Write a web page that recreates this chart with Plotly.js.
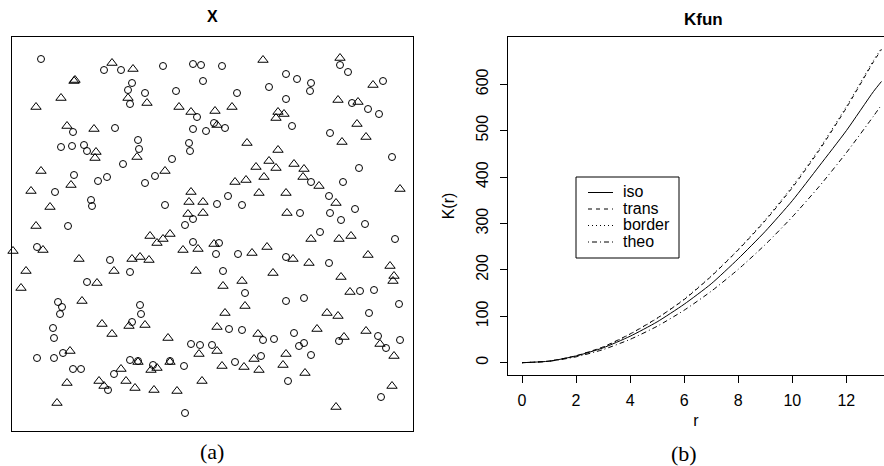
<!DOCTYPE html>
<html>
<head>
<meta charset="utf-8">
<script src="https://cdn.plot.ly/plotly-3.0.1.min.js"></script>
<style>
  html, body { margin: 0; padding: 0; background: #ffffff; }
  #chart { width: 884px; height: 466px; }
</style>
</head>
<body>
<div id="chart"></div>
<script>
// ---------- Panel (a): point pattern X (window units: 0..401 x 0..394) ----------
const circleX = [29,92,109,151,181,189,210,191,120,116,133,164,118,185,202,61,103,181,194,126,177,49,60,72,75,127,178,160,111,
  328,336,274,285,299,298,257,371,225,274,340,356,367,213,280,318,380,
  347,299,331,216,205,230,317,343,288,318,329,353,308,383,207,204,226,274,317,211,233,348,362,
  62,86,95,133,143,43,79,80,153,181,173,56,181,25,98,118,75,
  46,50,48,128,129,41,42,120,179,188,200,25,42,51,61,69,118,126,141,158,172,102,96,173,
  274,292,387,357,217,230,251,262,282,327,366,374,388,287,292,299,223,249,276,369];
const circleY = [372,361,361,365,367,366,365,350,348,341,338,340,327,314,308,299,303,302,300,291,288,284,285,286,280,282,280,272,267,
  366,359,357,352,348,340,344,350,338,332,328,322,317,303,305,298,274,
  263,249,249,235,227,226,235,222,218,218,211,207,199,192,188,177,177,174,168,160,138,140,141,
  256,250,254,248,255,239,231,225,226,212,206,205,189,184,171,159,149,
  129,124,117,126,117,103,93,109,87,86,86,73,73,78,62,62,71,70,66,70,65,57,41,18,
  130,133,127,118,102,101,91,92,98,90,95,83,91,85,88,76,69,75,50,34];

const triX = [100,121,62,63,49,116,135,24,167,179,203,205,55,82,84,83,125,
  251,328,361,326,346,220,266,272,264,345,354,330,235,266,257,
  244,264,282,292,291,307,388,223,234,252,247,274,324,275,299,327,339,202,240,255,281,297,356,378,382,381,261,329,211,230,338,
  29,153,19,59,38,179,177,191,176,191,24,138,145,151,158,186,171,1,31,67,120,128,137,14,102,184,9,85,
  70,90,100,117,133,156,205,187,205,58,126,139,145,158,109,210,55,87,92,114,123,142,165,190,45,
  213,233,315,326,246,305,332,354,368,274,382,232,242,247,271,293,380,324];
const triY = [368,362,350,351,333,333,328,324,324,319,320,306,305,302,279,273,274,
  371,373,346,331,329,324,319,317,313,307,294,289,288,281,270,
  264,263,267,262,254,245,242,249,251,254,238,238,228,218,192,192,195,187,178,184,172,168,176,165,155,150,158,154,145,150,139,
  260,260,240,246,224,239,229,229,217,218,205,195,188,192,197,182,181,180,181,172,172,174,171,160,160,160,143,148,
  130,107,97,105,106,93,104,77,80,80,69,61,63,69,62,65,48,50,45,50,43,41,40,50,28,
  118,125,118,115,97,102,94,100,87,77,75,64,72,61,66,58,45,24];

// ---------- Panel (b): K function estimates ----------
const rVals      = [0, 1, 2, 3, 4, 5, 6, 7, 8, 9, 10, 11, 12, 13, 13.3];
const kIso       = [0, 3.3, 14.5, 32, 57, 88, 126, 170, 224, 283, 349, 424, 500, 584, 606];
const kTrans     = [0, 3.4, 15, 34, 62, 96, 136, 186, 243, 306, 377, 458, 549, 648, 675];
const kBorder    = [0, 3.3, 14.8, 33.6, 61.5, 95.5, 137, 187, 244, 308, 380, 461, 552, 651, 678];
const kTheo      = [0, 3.1, 12.6, 28.3, 50.3, 78.5, 113.1, 153.9, 201.1, 254.5, 314.2, 380.1, 452.4, 530.9, 555.7];
const seriesNames = ["iso", "trans", "border", "theo"];
const xTicks = [0, 2, 4, 6, 8, 10, 12];
const yTicks = [0, 100, 200, 300, 400, 500, 600];

// ---------- layout helpers (pixel -> paper) ----------
const W = 884, H = 466;
const px = v => v / W;
const py = v => 1 - v / H;
const SANS = "Liberation Sans, Arial, Helvetica, sans-serif";
const SERIF = "Liberation Serif, Times New Roman, serif";

const dashes = ["solid", "4px,4px", "1px,3px", "1px,3px,5px,3px"];
const series = [kIso, kTrans, kBorder, kTheo];

const traces = [
  { type: "scatter", mode: "markers", x: circleX, y: circleY, xaxis: "x", yaxis: "y",
    cliponaxis: false, hoverinfo: "skip",
    marker: { symbol: "circle-open", size: 7, color: "#000", line: { width: 1, color: "#000" } } },
  { type: "scatter", mode: "markers", x: triX, y: triY, xaxis: "x", yaxis: "y",
    cliponaxis: false, hoverinfo: "skip",
    marker: { symbol: "triangle-up-open", size: 9, color: "#000", line: { width: 1, color: "#000" } } }
];
series.forEach((s, i) => {
  traces.push({ type: "scatter", mode: "lines", name: seriesNames[i], x: rVals, y: s,
    xaxis: "x2", yaxis: "y2", hoverinfo: "skip",
    line: { color: "#000", width: 1, dash: dashes[i], shape: "spline", smoothing: 0.6 } });
});

// legend drawn as shapes + text
const legL = 576, legR = 679, legT = 177, legB = 258;
const rowY = [191.5, 208, 224.5, 241];
const shapes = [
  { type: "rect", xref: "paper", yref: "paper", x0: px(legL), x1: px(legR), y0: py(legB), y1: py(legT),
    line: { color: "#000", width: 1 }, fillcolor: "#fff" }
];
const annotations = [
  { text: "<b>X</b>", xref: "paper", yref: "paper", x: px(212), y: py(17), showarrow: false,
    xanchor: "center", yanchor: "middle", font: { family: SANS, size: 16, color: "#000" } },
  { text: "<b>Kfun</b>", xref: "paper", yref: "paper", x: px(703), y: py(20), showarrow: false,
    xanchor: "center", yanchor: "middle", font: { family: SANS, size: 17, color: "#000" } },
  { text: "(a)", xref: "paper", yref: "paper", x: px(212), y: py(451), showarrow: false,
    xanchor: "center", yanchor: "middle", font: { family: SERIF, size: 22, color: "#000" } },
  { text: "(b)", xref: "paper", yref: "paper", x: px(684), y: py(453), showarrow: false,
    xanchor: "center", yanchor: "middle", font: { family: SERIF, size: 22, color: "#000" } }
];
seriesNames.forEach((n, i) => {
  shapes.push({ type: "line", xref: "paper", yref: "paper", x0: px(588), x1: px(613),
    y0: py(rowY[i] + 1), y1: py(rowY[i] + 1), line: { color: "#000", width: 1, dash: dashes[i] } });
  annotations.push({ text: n, xref: "paper", yref: "paper", x: px(621), y: py(rowY[i]), showarrow: false,
    xanchor: "left", yanchor: "middle", font: { family: SANS, size: 16, color: "#000" } });
});

const boxAxis = { showline: true, mirror: true, linecolor: "#000", linewidth: 1, showgrid: false,
  zeroline: false, showticklabels: false, ticks: "", fixedrange: true };

const layout = {
  width: W, height: H,
  margin: { l: 0, r: 0, t: 0, b: 0 },
  paper_bgcolor: "#fff", plot_bgcolor: "#fff",
  showlegend: false,
  font: { family: SANS, color: "#000" },
  xaxis: Object.assign({}, boxAxis, { domain: [px(12), px(413)], range: [0, 401] }),
  yaxis: Object.assign({}, boxAxis, { domain: [py(431), py(37)], range: [0, 394] }),
  xaxis2: { domain: [px(508), 1], range: [-0.518, 13.393], anchor: "y2",
    showline: true, mirror: true, linecolor: "#000", linewidth: 1, showgrid: false, zeroline: false,
    ticks: "outside", ticklen: 7, tickcolor: "#000", tickvals: xTicks, ticktext: xTicks.map(String),
    tickfont: { family: SANS, size: 16, color: "#000" }, ticklabelstandoff: 4,
    title: { text: "r", font: { family: SANS, size: 16, color: "#000" }, standoff: 6 } },
  yaxis2: { domain: [py(375), py(37)], range: [-26.5, 701.8], anchor: "x2",
    showline: true, mirror: false, linecolor: "#000", linewidth: 1, showgrid: false, zeroline: false,
    ticks: "outside", ticklen: 7, tickcolor: "#000", tickvals: yTicks, ticktext: yTicks.map(String),
    tickangle: -90, tickfont: { family: SANS, size: 16, color: "#000" }, ticklabelstandoff: 6,
    title: { text: "K(r)", font: { family: SANS, size: 16, color: "#000" }, standoff: 14 } },
  shapes: shapes,
  annotations: annotations
};

Plotly.newPlot("chart", traces, layout, { displayModeBar: false, staticPlot: true });
</script>
</body>
</html>
